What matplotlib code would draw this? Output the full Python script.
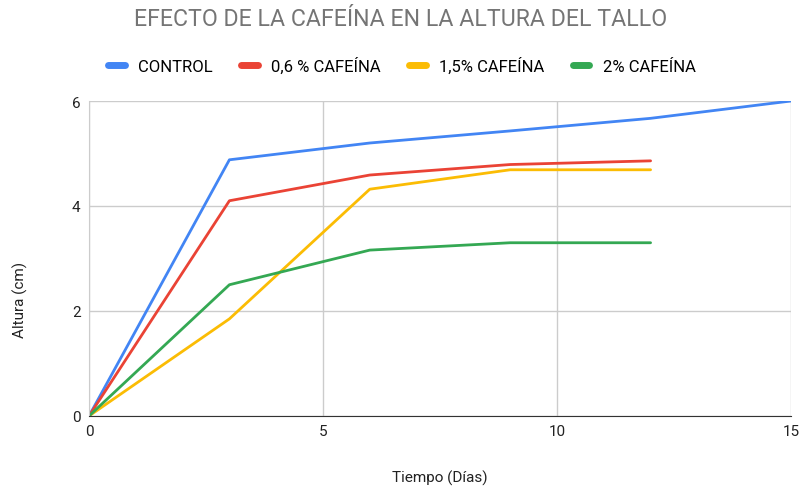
import matplotlib
matplotlib.use("Agg")
import matplotlib.pyplot as plt
from matplotlib.lines import Line2D

plt.rcParams['font.family'] = ['Roboto', 'DejaVu Sans']

dias = [0, 3, 6, 9, 12, 15]
control = [0, 4.88, 5.2, 5.43, 5.67, 6.0]
caf06 = [0, 4.1, 4.59, 4.79, 4.86]
caf15 = [0, 1.85, 4.32, 4.69, 4.69]
caf2 = [0, 2.5, 3.16, 3.3, 3.3]
series_names = ["CONTROL", "0,6 % CAFEÍNA", "1,5% CAFEÍNA", "2% CAFEÍNA"]
colors = ["#4285F4", "#EA4335", "#FBBC04", "#34A853"]
x_ticks = [0, 5, 10, 15]
y_ticks = [0, 2, 4, 6]

fig = plt.figure(figsize=(8.01, 4.89), dpi=100)
ax = fig.add_axes([89/801, 1-417/489, (791-89)/801, (417-102)/489])

data = [control, caf06, caf15, caf2]
for vals, c, name in zip(data, colors, series_names):
    ax.plot(dias[:len(vals)], vals, color=c, lw=2, label=name, solid_capstyle='round')

ax.set_xlim(0, 15)
ax.set_ylim(0, 6)
ax.set_xticks(x_ticks)
ax.set_yticks(y_ticks)
ax.grid(True, color="#cccccc", lw=1)
ax.set_axisbelow(True)
for s in ['top', 'right']:
    ax.spines[s].set_visible(False)
ax.spines['left'].set_color("#cccccc")
ax.spines['bottom'].set_color("#333333")
ax.tick_params(length=0, labelsize=11, colors="#222222", pad=6)

fig.text(0.5, 1-20/489, "EFECTO DE LA CAFEÍNA EN LA ALTURA DEL TALLO", ha='center', va='center',
         fontsize=16.7, color="#757575")
fig.text(440/801, 1-478/489, "Tiempo (Días)", ha='center', va='center', fontsize=11, color="#222222")
fig.text(20/801, 1-300/489, "Altura (cm)", ha='center', va='center', rotation=90, fontsize=11, color="#222222")

handles = [Line2D([0], [0], color=c, lw=5, solid_capstyle='round') for c in colors]
fig.legend(handles, series_names, loc='center', bbox_to_anchor=(402/801, 1-66/489), ncol=4,
           frameon=False, fontsize=12, handlelength=1.0, handletextpad=0.8, columnspacing=1.7)

fig.savefig("out.png", dpi=100)
